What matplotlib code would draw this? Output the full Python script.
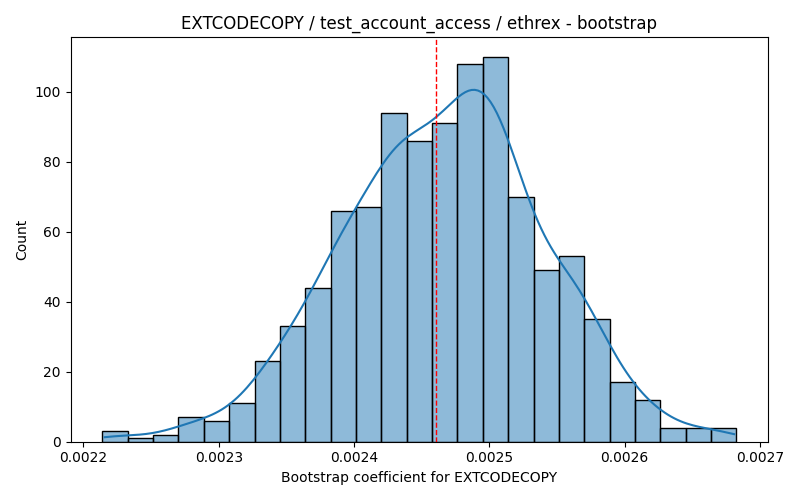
# bootstrap histogram for EXTCODECOPY

import numpy as np
import pandas as pd
import matplotlib
matplotlib.use("Agg")
import matplotlib.pyplot as plt
import seaborn as sns

TITLE = "EXTCODECOPY / test_account_access / ethrex - bootstrap"

# bin range
x_min = 0.002214
x_max = 0.0026826
counts = [3, 1, 2, 7, 6, 11, 23, 33, 44, 66, 67, 94, 86,
          91, 108, 110, 70, 49, 53, 35, 17, 12, 4, 4, 4]
estimate = 0.0024607

edges = np.linspace(x_min, x_max, len(counts) + 1)
centers = (edges[:-1] + edges[1:]) / 2
n = sum(counts)

df = pd.DataFrame({"coef": centers, "count": counts})

fig, ax = plt.subplots(figsize=(8, 5), dpi=100)
# kde from binned counts, stretched about half a bin so it spans the bars
sns.histplot(data=df, x="coef", weights="count", bins=list(edges), kde=True, ax=ax,
             kde_kws={"bw_method": n ** -0.2, "cut": 0.22})
ax.axvline(estimate, color="red", linestyle="--", linewidth=1)

ax.set_title(TITLE)
ax.set_xlabel("Bootstrap coefficient for EXTCODECOPY")
ax.set_ylabel("Count")

plt.tight_layout()
plt.savefig("out.png")
